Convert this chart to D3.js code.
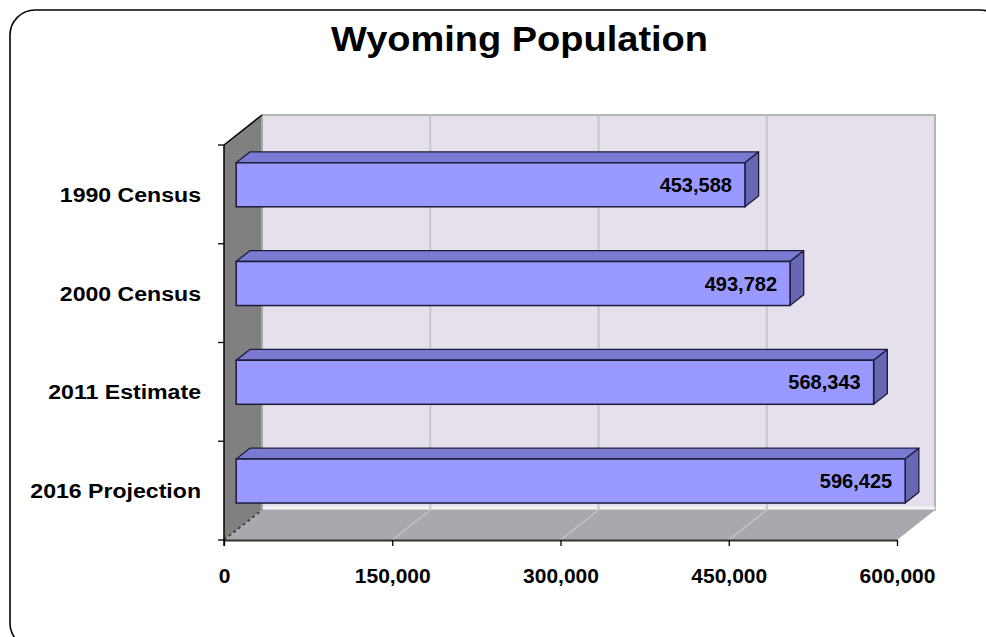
<!DOCTYPE html>
<html>
<head>
<meta charset="utf-8">
<script src="https://cdn.jsdelivr.net/npm/d3@7"></script>
<style>
  html, body { margin: 0; padding: 0; background: #fff; }
  svg { display: block; }
  text { font-family: Arial, "Liberation Sans", sans-serif; font-weight: bold; fill: #000; }
</style>
</head>
<body>
<svg id="chart" width="986" height="637"></svg>
<script>
const categories = ["1990 Census", "2000 Census", "2011 Estimate", "2016 Projection"];
const values = [453588, 493782, 568343, 596425];
const tickValues = [0, 150000, 300000, 450000, 600000];
const title = "Wyoming Population";

const svg = d3.select("#chart");

// outer rounded frame
svg.append("rect").attr("x", 10).attr("y", 10).attr("width", 995).attr("height", 638)
  .attr("rx", 25).attr("ry", 25).attr("fill", "#fff").attr("stroke", "#000").attr("stroke-width", 1.6);

// title
svg.append("text").attr("x", 519.5).attr("y", 51).attr("text-anchor", "middle")
  .attr("font-size", 35).attr("textLength", 377).attr("lengthAdjust", "spacingAndGlyphs")
  .text(title);

// geometry
const x0 = 224, x1 = 897, yTop = 145, yBot = 540;
const DX = 38, DY = -30; // depth vector
const x = d3.scaleLinear().domain([0, 600000]).range([x0, x1]);
const y = d3.scaleBand().domain(categories).range([yTop, yBot]).paddingInner(0.554).paddingOuter(0.277);
const yBoundary = d3.scaleLinear().domain([0, categories.length]).range([yTop, yBot]);

const pts = a => a.map(p => p.join(",")).join(" ");

// back wall
svg.append("polygon")
  .attr("points", pts([[x0 + DX, yTop + DY], [x1 + DX, yTop + DY], [x1 + DX, yBot + DY], [x0 + DX, yBot + DY]]))
  .attr("fill", "#e5e0eb").attr("stroke", "#b4b4b4").attr("stroke-width", 2);
svg.append("line").attr("x1", x0 + DX).attr("x2", x1 + DX).attr("y1", yBot + DY - 2).attr("y2", yBot + DY - 2)
  .attr("stroke", "#f4f2f6").attr("stroke-width", 3);

// gridlines on back wall
svg.append("g").selectAll("line").data(tickValues.slice(1, -1)).join("line")
  .attr("x1", d => x(d) + DX).attr("x2", d => x(d) + DX)
  .attr("y1", yTop + DY).attr("y2", yBot + DY)
  .attr("stroke", "#c6c6c6").attr("stroke-width", 2);

// left wall
svg.append("polygon")
  .attr("points", pts([[x0, yTop], [x0 + DX, yTop + DY], [x0 + DX, yBot + DY], [x0, yBot]]))
  .attr("fill", "#808080");
svg.append("line").attr("x1", x0 + DX).attr("x2", x0 + DX).attr("y1", yTop + DY).attr("y2", yBot + DY)
  .attr("stroke", "#a8a8a8").attr("stroke-width", 2);

// floor
svg.append("polygon")
  .attr("points", pts([[x0, yBot], [x0 + DX, yBot + DY], [x1 + DX, yBot + DY], [x1, yBot]]))
  .attr("fill", "#aaa7ae");
svg.append("g").selectAll("line").data(tickValues.slice(1, -1)).join("line")
  .attr("x1", d => x(d)).attr("x2", d => x(d) + DX)
  .attr("y1", yBot).attr("y2", yBot + DY)
  .attr("stroke", "#c4c2c8").attr("stroke-width", 1.5);
svg.append("line").attr("x1", x0).attr("y1", yBot).attr("x2", x0 + DX).attr("y2", yBot + DY)
  .attr("stroke", "#333").attr("stroke-width", 1.5).attr("stroke-dasharray", "3,3");

// wall top edge
svg.append("line").attr("x1", x0).attr("y1", yTop).attr("x2", x0 + DX).attr("y2", yTop + DY)
  .attr("stroke", "#000").attr("stroke-width", 1.5);

// bars
const f0 = 0.32, f1 = 0.68;
const barG = svg.append("g");
categories.forEach((c, i) => {
  const v = values[i];
  const ox = DX * f0, oy = DY * f0;
  const bx = DX * f1, by = DY * f1;
  const L = x(0) + ox, R = x(v) + ox;
  const T = y(c) + oy, B = y(c) + y.bandwidth() + oy;
  const g = barG.append("g");
  g.append("polygon")
    .attr("points", pts([[L, T], [L + (bx - ox), T + (by - oy)], [R + (bx - ox), T + (by - oy)], [R, T]]))
    .attr("fill", "#7a7ad2").attr("stroke", "#1c1c3a").attr("stroke-width", 1.3).attr("stroke-linejoin", "round");
  g.append("polygon")
    .attr("points", pts([[R, T], [R + (bx - ox), T + (by - oy)], [R + (bx - ox), B + (by - oy)], [R, B]]))
    .attr("fill", "#6767b3").attr("stroke", "#1c1c3a").attr("stroke-width", 1.3).attr("stroke-linejoin", "round");
  g.append("rect").attr("x", L).attr("y", T).attr("width", R - L).attr("height", B - T)
    .attr("fill", "#9999ff").attr("stroke", "#1c1c3a").attr("stroke-width", 1.5);
  g.append("text").attr("x", R - 13).attr("y", (T + B) / 2).attr("dy", "0.36em")
    .attr("text-anchor", "end").attr("font-size", 20).text(d3.format(",")(v));
});

// left axis line & ticks
svg.append("line").attr("x1", x0).attr("x2", x0).attr("y1", yTop).attr("y2", yBot + 6)
  .attr("stroke", "#000").attr("stroke-width", 1.5);
svg.append("g").selectAll("line").data(d3.range(categories.length + 1)).join("line")
  .attr("x1", x0 - 6).attr("x2", x0).attr("y1", d => yBoundary(d)).attr("y2", d => yBoundary(d))
  .attr("stroke", "#000").attr("stroke-width", 1.3);

// category labels
svg.append("g").selectAll("text").data(categories).join("text")
  .attr("x", 201).attr("y", d => y(d) + y.bandwidth() / 2).attr("dy", "0.36em")
  .attr("text-anchor", "end").attr("font-size", 21)
  .attr("transform", `translate(201,0) scale(1.1,1) translate(-201,0)`)
  .text(d => d);

// bottom axis
const xAxis = d3.axisBottom(x).tickValues(tickValues).tickSize(6).tickSizeOuter(0).tickFormat(d3.format(","));
const ax = svg.append("g").attr("transform", `translate(0,${yBot})`).call(xAxis);
ax.select(".domain").attr("stroke", "#333").attr("stroke-width", 2);
ax.selectAll(".tick line").attr("stroke", "#000").attr("stroke-width", 1.3);
ax.selectAll(".tick text").attr("font-size", 21).attr("font-family", "Arial, 'Liberation Sans', sans-serif")
  .attr("font-weight", "bold").attr("fill", "#000").attr("y", 35).attr("dy", "0.36em");
</script>
</body>
</html>
